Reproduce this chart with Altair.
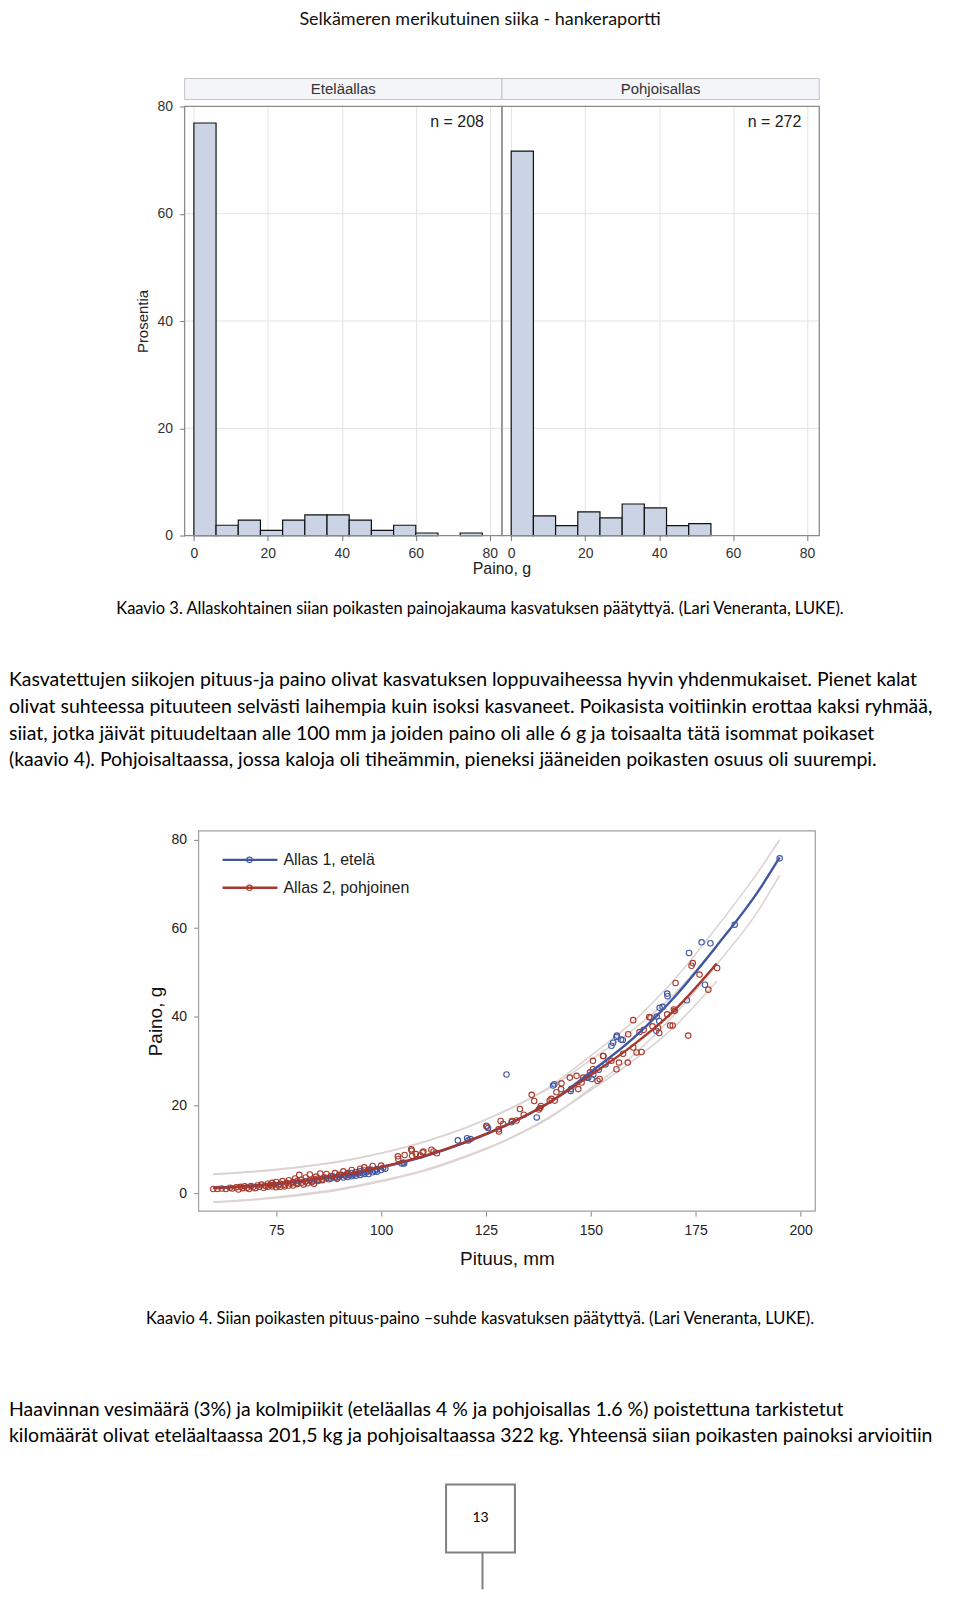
import altair as alt
import pandas as pd

# ---------------- page text ----------------
header_text = "Selkämeren merikutuinen siika - hankeraportti"
caption3 = "Kaavio 3. Allaskohtainen siian poikasten painojakauma kasvatuksen päätyttyä. (Lari Veneranta, LUKE)."
para1 = [
    "Kasvatettujen siikojen pituus-ja paino olivat kasvatuksen loppuvaiheessa hyvin yhdenmukaiset. Pienet kalat",
    "olivat suhteessa pituuteen selvästi laihempia kuin isoksi kasvaneet. Poikasista voitiinkin erottaa kaksi ryhmää,",
    "siiat, jotka jäivät pituudeltaan alle 100 mm ja joiden paino oli alle 6 g ja toisaalta tätä isommat poikaset",
    "(kaavio 4). Pohjoisaltaassa, jossa kaloja oli tiheämmin, pieneksi jääneiden poikasten osuus oli suurempi.",
]
caption4 = "Kaavio 4. Siian poikasten pituus-paino –suhde kasvatuksen päätyttyä. (Lari Veneranta, LUKE)."
para2 = [
    "Haavinnan vesimäärä (3%) ja kolmipiikit (eteläallas 4 % ja pohjoisallas 1.6 %) poistettuna tarkistetut",
    "kilomäärät olivat eteläaltaassa 201,5 kg ja pohjoisaltaassa 322 kg. Yhteensä siian poikasten painoksi arvioitiin",
]
page_number = "13"

# ---------------- histogram (Kaavio 3) ----------------
panels = ["Eteläallas", "Pohjoisallas"]
n_labels = ["n = 208", "n = 272"]
hist_x_title = "Paino, g"
hist_y_title = "Prosentia"
bin_start = [0, 6, 12, 18, 24, 30, 36, 42, 48, 54, 60, 66, 72]
bin_end = [6, 12, 18, 24, 30, 36, 42, 48, 54, 60, 66, 72, 78]
etela_pct = [76.92, 1.92, 2.88, 0.96, 2.88, 3.85, 3.85, 2.88, 0.96, 1.92, 0.48, 0.0, 0.48]
pohjois_pct = [71.69, 3.68, 1.84, 4.41, 3.31, 5.88, 5.15, 1.84, 2.21, 0.0, 0.0, 0.0, 0.0]
hist_ticks = [0, 20, 40, 60, 80]
hist_hgrid = [20, 40, 60]
hist_xdom = [-2.5, 83.3]
hist_ydom = [0, 80]

# ---------------- scatter (Kaavio 4) ----------------
series = ["Allas 1, etelä", "Allas 2, pohjoinen"]
sc_x_title = "Pituus, mm"
sc_y_title = "Paino, g"
sc_x_ticks = [75, 100, 125, 150, 175, 200]
sc_y_ticks = [0, 20, 40, 60, 80]
sc_xdom = [56.5, 203.5]
sc_ydom = [-4, 82]

etela_len = [80, 82, 84, 85, 86, 87, 88, 88.5, 89, 89.5, 90, 90.5, 91, 91.5, 92, 92, 92.5, 93, 93,
             93.5, 94, 94, 94.5, 95, 95, 95.5, 96, 96, 96.5, 97, 97, 97.5, 98, 98.5, 99, 99, 100,
             100.5, 101, 104.9, 105.3, 105.5, 118.3, 120.5, 120.8, 121.3, 125.1, 125.5, 129.9, 131.1,
             137.1, 141.0, 141.3, 145.2, 145.3, 149.0, 149.4, 150.2, 150.6, 151.9, 153.5, 154.9, 155.3,
             156.1, 156.2, 157.2, 157.6, 165.6, 165.7, 166.3, 166.4, 167.1, 168.2, 168.3, 172.9, 173.4,
             176.4, 177.2, 178.5, 184.3, 195.0]
etela_wt = [2.4, 2.7, 2.9, 3.1, 3.2, 3.5, 3.4, 3.9, 3.6, 3.3, 3.8, 4.2, 3.6, 4.0, 4.4, 3.7, 4.1, 4.6, 3.9,
            4.3, 4.8, 4.0, 4.5, 4.2, 5.0, 4.6, 4.4, 5.2, 4.8, 5.0, 4.4, 5.4, 4.8, 5.1, 5.5, 4.9, 5.3,
            5.8, 5.6, 6.8, 7.0, 6.8, 12.0, 12.5, 12.0, 12.3, 15.3, 14.8, 26.9, 16.1,
            17.2, 24.4, 24.7, 23.2, 23.6, 26.2, 26.2, 25.9, 26.9, 28.0, 29.2, 33.4, 34.1,
            35.4, 35.7, 34.8, 34.7, 36.8, 40.0, 39.0, 42.0, 42.2, 45.2, 44.6, 43.7, 54.4,
            56.8, 47.2, 56.6, 60.8, 75.8]

pohj_len = [60.0, 61.0, 62.0, 63.0, 64.0, 64.5, 65.5, 66.0, 66.5, 67.0, 67.5, 68.0, 68.5, 69.0, 69.5,
            70.0, 70.5, 71.0, 71.5, 72.0, 72.5, 73.0, 73.0, 73.5, 74.0, 74.0, 74.5, 75.0, 75.0, 75.5,
            76.0, 76.0, 76.5, 77.0, 77.0, 77.5, 78.0, 78.0, 78.5, 79.0, 79.0, 79.5, 80.0, 80.0, 80.5,
            81.0, 81.0, 81.5, 82.0, 82.0, 82.5, 83.0, 83.0, 83.5, 84.0, 84.0, 84.5, 85.0, 85.0, 85.5,
            86.0, 86.5, 87.0, 87.5, 88.0, 89.0, 89.5, 90.0, 91.0, 91.5, 92.0, 93.0, 94.0, 95.0, 96.0,
            97.0, 98.0, 100.0,
            104.0, 104.1, 105.6, 107.2, 107.3, 107.4, 108.3, 109.3, 109.9, 110.1, 112.0, 112.5, 113.3,
            125.2, 128.0, 128.1, 128.5, 129.1, 131.2, 132.3, 133.1, 134.0, 135.9, 136.5, 137.6, 137.9,
            138.1, 140.2, 140.6, 141.4, 141.8, 142.9, 143.0, 145.0, 146.6, 147.0, 147.8, 148.2, 149.8,
            150.5, 150.5, 151.6, 152.1, 152.9, 153.0, 154.9, 156.1, 156.7, 157.7, 158.8, 158.9, 160.1,
            160.1, 160.9, 162.1, 161.6, 162.6, 163.9, 164.2, 164.7, 166.3, 166.0, 168.2, 168.9, 169.5,
            169.8, 170.0, 170.2, 173.2, 174.0, 174.3, 175.9, 178.0, 180.1]
pohj_wt = [1.0, 1.0, 1.1, 1.0, 1.3, 1.1, 1.4, 0.9, 1.5, 1.2, 1.6, 1.3, 1.0, 1.7, 1.4,
           1.2, 1.8, 1.5, 2.0, 1.3, 1.7, 2.2, 1.5, 1.9, 2.4, 1.6, 2.0, 1.4, 2.6, 1.8,
           2.2, 1.5, 2.8, 2.0, 1.6, 2.4, 1.8, 3.0, 2.2, 2.6, 1.8, 3.4, 2.1, 2.8, 4.2,
           2.4, 3.1, 2.0, 2.7, 3.6, 2.3, 3.0, 4.3, 2.6, 3.2, 2.2, 3.8, 2.8, 3.4, 4.5,
           3.0, 3.6, 4.4, 3.2, 3.9, 4.6, 3.6, 4.2, 5.0, 4.1, 4.6, 5.3, 4.8, 5.6, 5.9,
           5.4, 6.2, 6.3,
           8.4, 7.8, 8.7, 10.0, 9.7, 8.5, 8.9, 8.6, 9.3, 9.5, 9.9, 9.5, 9.1,
           15.1, 14.5, 14.0, 16.4, 15.7, 16.4, 16.5, 19.1, 17.8, 22.3, 20.9, 19.0, 19.3,
           19.8, 21.0, 21.4, 21.0, 22.9, 23.6, 24.9, 26.2, 26.6, 23.6, 25.1, 26.2, 27.4,
           28.1, 30.0, 25.5, 25.9, 31.1, 31.1, 30.0, 28.1, 29.6, 31.6, 29.6, 36.0, 39.2,
           33.0, 31.9, 32.0, 36.5, 37.0, 39.9, 39.8, 37.8, 36.3, 37.5, 40.5, 38.0, 38.0,
           41.6, 41.3, 47.6, 35.7, 51.5, 52.1, 49.5, 46.1, 51.0]

# fitted curves and prediction limits
etela_fit_x = [60, 70, 80, 90, 100, 110, 120, 130, 140, 150, 160, 170, 180, 190, 195]
etela_fit_y = [1.2, 1.8, 2.7, 4.0, 5.9, 8.3, 11.5, 15.5, 20.5, 27.5, 35.0, 44.5, 56.0, 68.5, 76.0]
etela_upper = [4.4, 5.0, 5.9, 7.2, 9.1, 11.6, 14.8, 18.9, 24.0, 31.2, 38.8, 48.5, 60.2, 72.9, 80.0]
etela_lower = [-2.0, -1.4, -0.5, 0.8, 2.7, 5.0, 8.2, 12.1, 17.0, 23.8, 31.2, 40.5, 51.8, 64.1, 72.0]
pohj_fit_x = [60, 70, 80, 90, 100, 110, 120, 130, 140, 150, 160, 170, 180]
pohj_fit_y = [1.2, 1.8, 2.8, 4.1, 6.0, 8.4, 11.6, 15.5, 20.5, 26.8, 33.5, 41.5, 52.0]
pohj_upper = [4.3, 4.9, 5.9, 7.2, 9.1, 11.6, 14.8, 18.8, 23.8, 30.2, 37.0, 45.2, 56.0]
pohj_lower = [-1.9, -1.3, -0.3, 1.0, 2.9, 5.2, 8.4, 12.2, 17.2, 23.4, 30.0, 37.8, 48.0]

# ---------------- styles / layout ----------------
PAGE_FONT = "Lato, Carlito, Calibri, sans-serif"
NARROW = "Liberation Sans Narrow, Arial Narrow, Liberation Sans, sans-serif"
SANS = "Liberation Sans, Arial, sans-serif"
BLUE = "#3f56a2"
RED = "#a8382c"
BAND = "#ddd3d3"
BAR_FILL = "#cad4e4"
FRAME = "#8a8a8a"
GRID = "#e3e3e3"
PAGE_W = 944
BODY_SIZE = 19.5
CAP_SIZE = 16.5

LEFT_RANGE = [176, 494]
RIGHT_RANGE = [494, 812]
SC_RANGE = [190, 808]


def text_layer(s, x, y, size, font=PAGE_FONT, align="left", baseline="middle", color="#000000"):
    return alt.Chart(pd.DataFrame({"t": [s]})).mark_text(
        align=align, baseline=baseline, font=font, fontSize=size, color=color
    ).encode(x=alt.value(x), y=alt.value(y), text="t:N")


# Row 1: running header
row_header = alt.layer(
    text_layer(header_text, 472, 14.5, 18, align="center", baseline="alphabetic", color="#111111")
).properties(width=PAGE_W, height=68)


# Row 2: panel strips
def strip_layers(title, rng):
    base = alt.Chart(pd.DataFrame({"t": [title]}))
    box = base.mark_rect(fill="#f3f5f9", stroke="#c4c4c4", strokeWidth=1).encode(
        x=alt.value(rng[0]), x2=alt.value(rng[1]), y=alt.value(0), y2=alt.value(21)
    )
    lab = base.mark_text(font=NARROW, fontSize=15, color="#333333").encode(
        x=alt.value((rng[0] + rng[1]) / 2), y=alt.value(11), text="t:N"
    )
    return [box, lab]


row_strips = alt.layer(
    *strip_layers(panels[0], LEFT_RANGE), *strip_layers(panels[1], RIGHT_RANGE)
).properties(width=PAGE_W, height=28)

# shared y axis of the histogram
hist_yscale = alt.Scale(domain=hist_ydom, nice=False, zero=False)
hist_yaxis = alt.Axis(orient="left", offset=-LEFT_RANGE[0], values=hist_ticks, grid=False,
                      tickColor="#777777", tickSize=5, labelPadding=7, labelFont=NARROW, labelFontSize=14,
                      labelColor="#333333", domain=False, title=hist_y_title, titleFont=SANS,
                      titleFontSize=15, titleFontWeight="normal", titleColor="#222222", titlePadding=7,
                      labelFlush=False)


# Row 3: histogram panels (two x scales inside one view)
def hist_group(pct, nlab, rng):
    df = pd.DataFrame({"start": bin_start, "end": bin_end, "pct": pct})
    df = df[df["pct"] > 0].copy()
    df["base"] = 0
    xsc = alt.Scale(domain=hist_xdom, range=rng, nice=False, zero=False)
    xax = alt.Axis(orient="bottom", values=hist_ticks, grid=True, gridColor=GRID, tickColor="#777777",
                   tickSize=5, labelPadding=6, labelFont=NARROW, labelFontSize=14, labelColor="#333333",
                   domain=False, title=None, labelFlush=False)

    grid_df = pd.DataFrame({"start": hist_xdom[0], "end": hist_xdom[1], "pct": hist_hgrid})
    hgrid = alt.Chart(grid_df).mark_rule(color=GRID, strokeWidth=1).encode(
        x=alt.X("start:Q", scale=xsc, axis=xax), x2="end:Q",
        y=alt.Y("pct:Q", scale=hist_yscale, axis=hist_yaxis))
    bars = alt.Chart(df).mark_rect(fill=BAR_FILL, stroke="#111111", strokeWidth=1.2).encode(
        x=alt.X("start:Q", scale=xsc, axis=xax),
        x2="end:Q",
        y=alt.Y("pct:Q", scale=hist_yscale, axis=hist_yaxis),
        y2="base:Q",
    )
    frame_df = pd.DataFrame({"start": [hist_xdom[0]], "end": [hist_xdom[1]],
                             "pct": [hist_ydom[1]], "base": [hist_ydom[0]]})
    frame = alt.Chart(frame_df).mark_rect(fillOpacity=0, stroke=FRAME, strokeWidth=1.3).encode(
        x=alt.X("start:Q", scale=xsc, axis=xax), x2="end:Q",
        y=alt.Y("pct:Q", scale=hist_yscale, axis=hist_yaxis), y2="base:Q")
    nl = text_layer(nlab, rng[0] + 300, 16, 16, font=NARROW, align="right", color="#222222")
    return alt.layer(hgrid, bars, frame, nl)


row_hist = alt.layer(
    hist_group(etela_pct, n_labels[0], LEFT_RANGE),
    hist_group(pohjois_pct, n_labels[1], RIGHT_RANGE),
).resolve_scale(x="independent").properties(width=PAGE_W, height=430)

# Row 4: text between charts
row4_layers = [
    text_layer(hist_x_title, 494, 34, 16, font=SANS, align="center", color="#222222"),
    text_layer(caption3, 472, 74, CAP_SIZE, align="center"),
]
for i, line in enumerate(para1):
    row4_layers.append(text_layer(line, 0, 145 + 26.7 * i, BODY_SIZE))
row_text1 = alt.layer(*row4_layers).properties(width=PAGE_W, height=296)

# Row 5: scatter
sxs = alt.Scale(domain=sc_xdom, range=SC_RANGE, nice=False, zero=False)
sys_ = alt.Scale(domain=sc_ydom, nice=False, zero=False)
x_axis = alt.Axis(orient="bottom", values=sc_x_ticks, grid=False, tickColor="#888888", tickSize=5,
                  labelPadding=7, labelFont=NARROW, labelFontSize=14, labelColor="#222222", domain=False,
                  title=sc_x_title, titleFont=SANS, titleFontSize=19, titleFontWeight="normal",
                  titleColor="#111111", titlePadding=12, labelFlush=False)
y_axis = alt.Axis(orient="left", offset=-SC_RANGE[0], values=sc_y_ticks, grid=False, tickColor="#888888",
                  tickSize=5, labelPadding=7, labelFont=NARROW, labelFontSize=14, labelColor="#222222",
                  domain=False, title=sc_y_title, titleFont=SANS, titleFontSize=19, titleFontWeight="normal",
                  titleColor="#111111", titlePadding=6, labelFlush=False)
X = alt.X("len:Q", scale=sxs, axis=x_axis)
Y = alt.Y("wt:Q", scale=sys_, axis=y_axis)

color_scale = alt.Scale(domain=series, range=[BLUE, RED])

pts = pd.concat([
    pd.DataFrame({"s": series[0], "len": etela_len, "wt": etela_wt}),
    pd.DataFrame({"s": series[1], "len": pohj_len, "wt": pohj_wt}),
], ignore_index=True)

bands = pd.concat([
    pd.DataFrame({"k": "e_up", "len": etela_fit_x, "wt": etela_upper}),
    pd.DataFrame({"k": "e_lo", "len": etela_fit_x, "wt": etela_lower}),
    pd.DataFrame({"k": "p_up", "len": pohj_fit_x, "wt": pohj_upper}),
    pd.DataFrame({"k": "p_lo", "len": pohj_fit_x, "wt": pohj_lower}),
], ignore_index=True)

sc_frame_df = pd.DataFrame({"len": [sc_xdom[0]], "len2": [sc_xdom[1]],
                            "wt": [sc_ydom[0]], "wt2": [sc_ydom[1]]})
sc_frame = alt.Chart(sc_frame_df).mark_rect(fillOpacity=0, stroke="#a0a0a0", strokeWidth=1.2).encode(
    x=X, x2="len2:Q", y=Y, y2="wt2:Q")
band_layer = alt.Chart(bands).mark_line(color=BAND, strokeWidth=1.6, interpolate="monotone").encode(
    x=X, y=Y, detail="k:N")
point_layer = alt.Chart(pts).mark_point(shape="circle", filled=False, size=30, strokeWidth=1.1, opacity=1).encode(
    x=X, y=Y, color=alt.Color("s:N", scale=color_scale, legend=None))
etela_line = alt.Chart(pd.DataFrame({"len": etela_fit_x, "wt": etela_fit_y})).mark_line(
    color=BLUE, strokeWidth=2.4, interpolate="monotone").encode(x=X, y=Y)
pohj_line = alt.Chart(pd.DataFrame({"len": pohj_fit_x, "wt": pohj_fit_y})).mark_line(
    color=RED, strokeWidth=2.4, interpolate="monotone").encode(x=X, y=Y)


def legend_entry(name, col, y):
    x0 = SC_RANGE[0]
    base = alt.Chart(pd.DataFrame({"t": [name]}))
    ln = base.mark_rule(color=col, strokeWidth=2.5).encode(
        x=alt.value(x0 + 24), x2=alt.value(x0 + 79), y=alt.value(y))
    pt = base.mark_point(shape="circle", filled=False, size=30, strokeWidth=1.1, color=col, opacity=1).encode(
        x=alt.value(x0 + 51), y=alt.value(y))
    tx = base.mark_text(align="left", baseline="middle", font=SANS, fontSize=16, color="#222222").encode(
        x=alt.value(x0 + 85), y=alt.value(y), text="t:N")
    return [ln, pt, tx]


row_scatter = alt.layer(
    sc_frame, band_layer, point_layer, etela_line, pohj_line,
    *legend_entry(series[0], BLUE, 29), *legend_entry(series[1], RED, 57)
).properties(width=PAGE_W, height=381)

# Row 6: caption, paragraph, page number
box = alt.Chart(pd.DataFrame({"t": [page_number]})).mark_rect(
    fill="#ffffff", stroke="#808080", strokeWidth=2).encode(
    x=alt.value(438), x2=alt.value(507), y=alt.value(274), y2=alt.value(342))
stem = alt.Chart(pd.DataFrame({"t": [page_number]})).mark_rule(color="#808080", strokeWidth=2).encode(
    x=alt.value(474.5), y=alt.value(342), y2=alt.value(379))
row6_layers = [text_layer(caption4, 472, 108, CAP_SIZE, align="center")]
for i, line in enumerate(para2):
    row6_layers.append(text_layer(line, 0, 199 + 26.3 * i, BODY_SIZE))
row6_layers += [box, stem, text_layer(page_number, 472.5, 308, 14, align="center")]
row_text2 = alt.layer(*row6_layers).properties(width=PAGE_W, height=379)

chart = alt.vconcat(
    row_header, row_strips, row_hist, row_text1, row_scatter, row_text2,
    spacing=0, bounds="flush"
).properties(padding=0).configure_view(stroke="transparent")

chart.save("out.html", embed_options={"renderer": "svg", "actions": False})
